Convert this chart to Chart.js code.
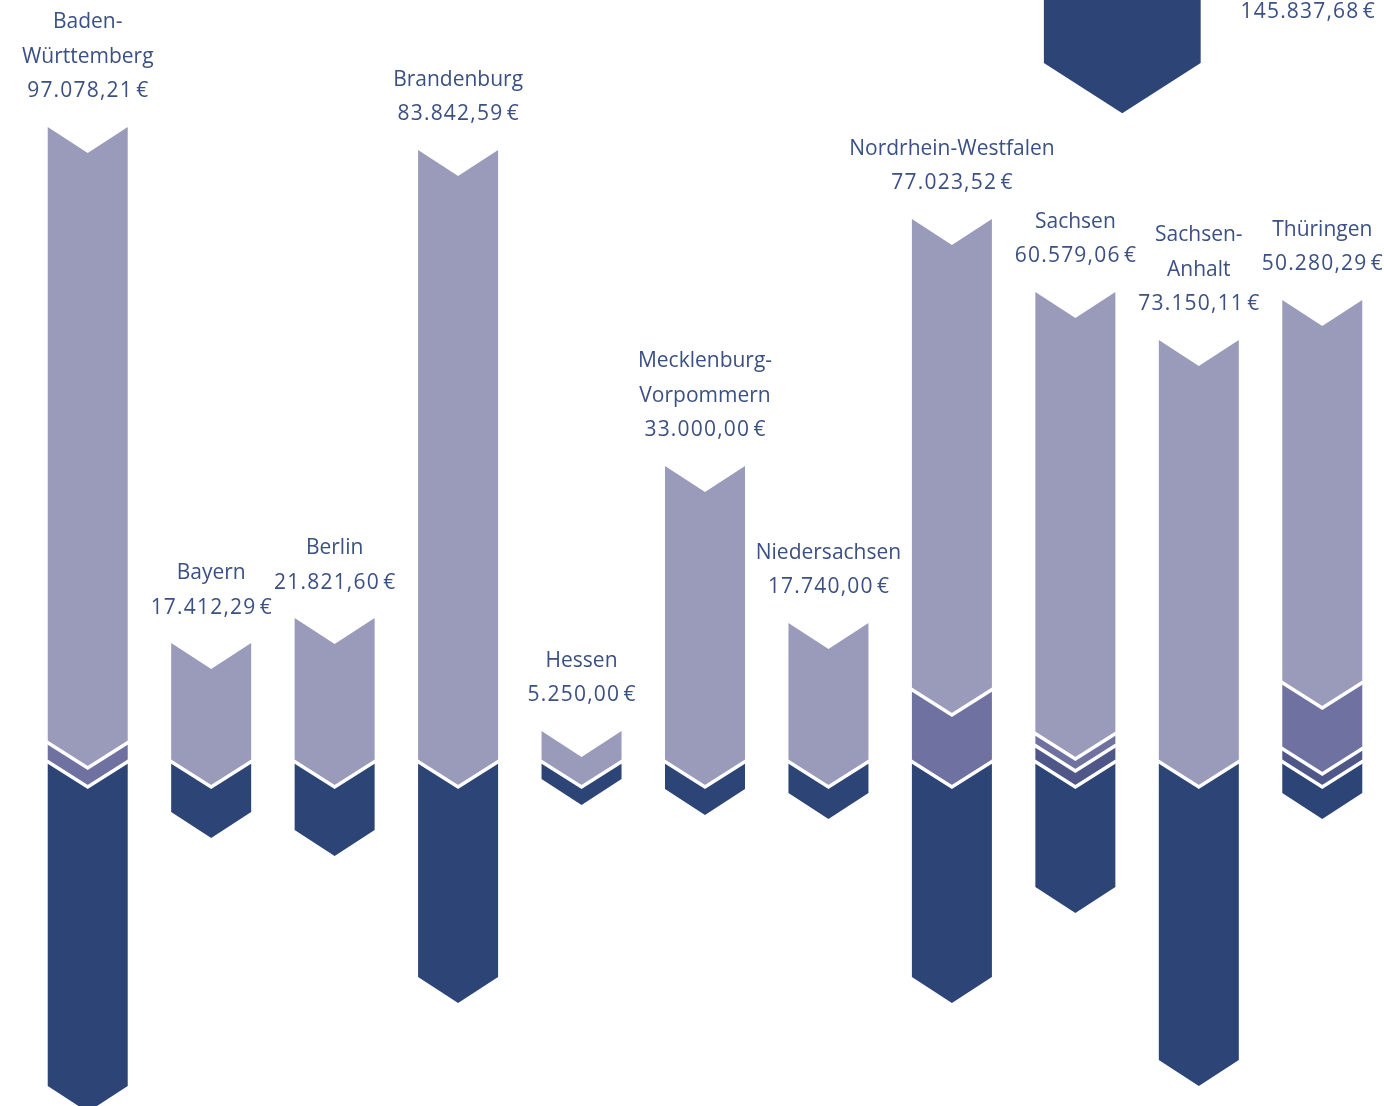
<!DOCTYPE html>
<html lang="de">
<head>
<meta charset="utf-8">
<title>Fördermittel nach Bundesland</title>
<script src="https://cdn.jsdelivr.net/npm/chart.js@4.4.1/dist/chart.umd.min.js"></script>
<style>
  html, body { margin: 0; padding: 0; background: #fff; }
  #wrap { width: 1384px; height: 1106px; position: relative; }
</style>
</head>
<body>
<div id="wrap"><canvas id="chart"></canvas></div>
<script>
// Bundesländer (Zeilen wie im Original umbrochen)
const categories = [
  ['Baden-', 'Württemberg'], ['Bayern'], ['Berlin'], ['Brandenburg'], ['Hessen'],
  ['Mecklenburg-', 'Vorpommern'], ['Niedersachsen'], ['Nordrhein-Westfalen'],
  ['Sachsen'], ['Sachsen-', 'Anhalt'], ['Thüringen'],
];
const totals = [97078.21, 17412.29, 21821.60, 83842.59, 5250.00, 33000.00, 17740.00, 77023.52, 60579.06, 73150.11, 50280.29];

// Teilbeträge (aus dem Bild geschätzt), hell oben -> dunkel unten
const lightValues = [62500, 11990, 14530, 62100, 3050, 29980, 14030, 47770, 44820, 42790, 38820];
const midValues   = [1930, 0, 0, 0, 0, 0, 0, 7320, 1220, 0, 6710];
const mid2Values  = [0, 0, 0, 0, 0, 0, 0, 0, 1630, 0, 1320];
const darkValues  = [33030, 5180, 7010, 21950, 1830, 2850, 3250, 21950, 12800, 30390, 3250];

// Gesamtbalken oben rechts
const overallTotal = [145837.68];

const COLORS = { light: '#9a9aba', mid: '#6f72a0', mid2: '#4f5789', dark: '#2d4476' };
const TEXT = '#3b5083';
const FONT = '21px "Open Sans", "Noto Sans", sans-serif';

// layout of the partly visible overall bar (in category index units)
const overallPos = 8.38, overallSpan = 1.27, overallBottom = 70930;

function euro(v) {
  const [int, dec] = v.toFixed(2).split('.');
  return int.replace(/\B(?=(\d{3})+(?!\d))/g, '.') + ',' + dec + '\u200a€';
}

function chevron(ctx, left, right, top, bot, d, color) {
  const c = (left + right) / 2;
  ctx.beginPath();
  ctx.moveTo(left, top);
  ctx.lineTo(c, top + d);
  ctx.lineTo(right, top);
  ctx.lineTo(right, bot);
  ctx.lineTo(c, bot + d);
  ctx.lineTo(left, bot);
  ctx.closePath();
  ctx.fillStyle = color;
  ctx.fill();
}

function valueText(ctx, txt, x, y) {
  ctx.letterSpacing = '1.2px';
  ctx.fillText(txt, x + 0.6, y);
  ctx.letterSpacing = '0px';
}

const chevronPlugin = {
  id: 'chevrons',
  beforeDatasetDraw() { return false; },
  afterDatasetsDraw(chart) {
    const ctx = chart.ctx;
    const x = chart.scales.x;
    const y = chart.scales.y;
    ctx.save();

    // overall bar
    const oc = x.getPixelForValue(overallPos);
    const ow = x.getPixelForValue(overallPos + overallSpan / 2) - x.getPixelForValue(overallPos - overallSpan / 2);
    const oBot = y.getPixelForValue(overallBottom);
    const oTop = y.getPixelForValue(overallBottom + overallTotal[0]);
    chevron(ctx, oc - ow / 2, oc + ow / 2, oTop, oBot, ow * 0.32, COLORS.dark);
    ctx.font = FONT;
    ctx.fillStyle = TEXT;
    ctx.textAlign = 'center';
    ctx.textBaseline = 'middle';
    valueText(ctx, euro(overallTotal[0]), oc + ow / 2 + 107, oBot - 51);

    categories.forEach((lines, i) => {
      const segs = [];
      chart.data.datasets.forEach((ds, di) => {
        const el = chart.getDatasetMeta(di).data[i];
        if (!el) return;
        const top = Math.min(el.y, el.base), bot = Math.max(el.y, el.base);
        if (bot - top < 0.5) return;
        segs.push({ top, bot, x: el.x, w: el.width, color: ds.backgroundColor });
      });
      segs.sort((a, b) => a.top - b.top);
      segs.forEach(s => {
        chevron(ctx, s.x - s.w / 2, s.x + s.w / 2, s.top, s.bot, s.w * 0.325, s.color);
      });
      // white separators
      ctx.strokeStyle = '#ffffff';
      ctx.lineWidth = 3.5;
      for (let k = 1; k < segs.length; k++) {
        const s = segs[k];
        const d = s.w * 0.325;
        ctx.beginPath();
        ctx.moveTo(s.x - s.w / 2 - 1, s.top);
        ctx.lineTo(s.x, s.top + d);
        ctx.lineTo(s.x + s.w / 2 + 1, s.top);
        ctx.stroke();
      }
      // labels
      const topPx = segs[0].top;
      const cx = segs[0].x;
      ctx.fillStyle = TEXT;
      valueText(ctx, euro(totals[i]), cx, topPx - 35.5);
      lines.forEach((ln, j) => {
        ctx.fillText(ln, cx, topPx - 35.5 - 34.5 * (lines.length - j));
      });
    });
    ctx.restore();
  },
};

new Chart(document.getElementById('chart'), {
  type: 'bar',
  data: {
    labels: categories,
    datasets: [
      { label: 'Anteil 3', data: mid2Values, backgroundColor: COLORS.mid2, stack: 's' },
      { label: 'Anteil 2', data: midValues, backgroundColor: COLORS.mid, stack: 's' },
      { label: 'Anteil 1', data: lightValues, backgroundColor: COLORS.light, stack: 's' },
      { label: 'Anteil 4', data: darkValues.map(v => -v), backgroundColor: COLORS.dark, stack: 's' },
    ],
  },
  options: {
    responsive: true,
    maintainAspectRatio: false,
    animation: false,
    layout: { padding: { left: 26, right: 0, top: 0, bottom: 0 } },
    datasets: { bar: { categoryPercentage: 1, barPercentage: 0.648 } },
    plugins: { legend: { display: false }, tooltip: { enabled: false } },
    scales: {
      x: { stacked: true, display: false },
      y: { stacked: true, display: false, min: -35061, max: 77337 },
    },
  },
  plugins: [chevronPlugin],
});
</script>
</body>
</html>
